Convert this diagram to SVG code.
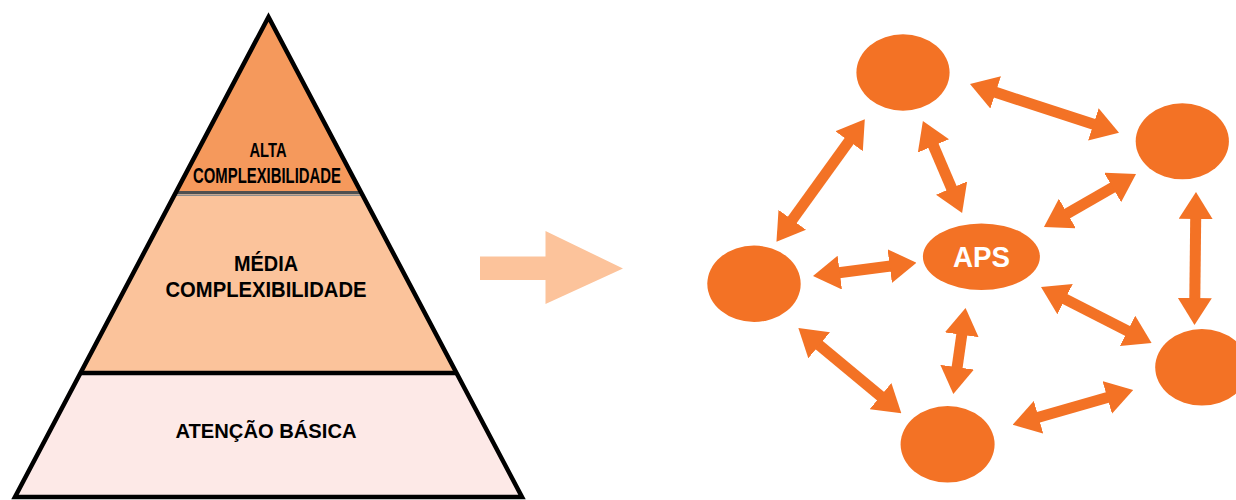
<svg xmlns="http://www.w3.org/2000/svg" width="1236" height="500" viewBox="0 0 1236 500">
  <style>
    .lbl { font-family: "Liberation Sans", Arial, sans-serif; font-weight: bold; fill: #000; text-anchor: middle; }
    .node { fill: #F37225; }
    .conn { stroke: #F37225; stroke-width: 11; fill: none; marker-start: url(#head); marker-end: url(#head); }
    .aps { font-family: "Liberation Sans", Arial, sans-serif; font-weight: bold; fill: #fff; text-anchor: middle; font-size: 29px; }
  </style>
  <defs>
    <marker id="head" markerUnits="userSpaceOnUse" viewBox="0 0 27 34" refX="1" refY="17" markerWidth="27" markerHeight="34" orient="auto-start-reverse">
      <path d="M0,0 L27,17 L0,34 z" fill="#F37225"/>
    </marker>
  </defs>
  <rect width="1236" height="500" fill="#fff"/>

  <g id="pyramid">
    <g id="alta">
      <polygon points="268.5,17 175,194 362,194" fill="#F5995C"/>
      <text class="lbl" x="268" y="156.7" font-size="21" textLength="37" lengthAdjust="spacingAndGlyphs">ALTA</text>
      <text class="lbl" x="267" y="183" font-size="21.5" textLength="148" lengthAdjust="spacingAndGlyphs">COMPLEXIBILIDADE</text>
    </g>
    <g id="media">
      <polygon points="175,194 362,194 456.5,373 80.5,373" fill="#FBC39B"/>
      <text class="lbl" x="266" y="270.5" font-size="21.5" textLength="64" lengthAdjust="spacingAndGlyphs">MÉDIA</text>
      <text class="lbl" x="266" y="296.7" font-size="22.5" textLength="201" lengthAdjust="spacingAndGlyphs">COMPLEXIBILIDADE</text>
    </g>
    <g id="basica">
      <polygon points="80.5,373 456.5,373 522,497 15,497" fill="#FDE9E7"/>
      <text class="lbl" x="266" y="437.5" font-size="21" textLength="181" lengthAdjust="spacingAndGlyphs">ATENÇÃO BÁSICA</text>
    </g>
    <line x1="176" y1="192.5" x2="361" y2="192.5" stroke="#4f4f4f" stroke-width="3"/>
    <line x1="175" y1="195.2" x2="362" y2="195.2" stroke="#8c8c8c" stroke-width="1.6"/>
    <line x1="80" y1="373" x2="457" y2="373" stroke="#000" stroke-width="4.5"/>
    <polygon points="268.5,17 522,497 15,497" fill="none" stroke="#000" stroke-width="4.5"/>
  </g>

  <g id="big-arrow">
    <polygon points="480,256.5 545.5,256.5 545.5,231 623,268.5 545.5,304 545.5,280 480,280" fill="#FCC39B"/>
  </g>

  <g id="connectors">
    <line class="conn" x1="994.7" y1="92.1" x2="1094.3" y2="124.6"/>
    <line class="conn" x1="849.6" y1="140.4" x2="791.7" y2="220.6"/>
    <line class="conn" x1="933.1" y1="145" x2="951.9" y2="189"/>
    <line class="conn" x1="1113.5" y1="187" x2="1066.5" y2="214"/>
    <line class="conn" x1="1195.7" y1="218" x2="1194.8" y2="299"/>
    <line class="conn" x1="838.8" y1="272.7" x2="890.7" y2="266"/>
    <line class="conn" x1="1064.2" y1="298.7" x2="1128.4" y2="331.3"/>
    <line class="conn" x1="961.9" y1="333.8" x2="957" y2="368.2"/>
    <line class="conn" x1="818.4" y1="344.6" x2="881.3" y2="396.7"/>
    <line class="conn" x1="1037.6" y1="417.5" x2="1108.2" y2="397.2"/>
  </g>

  <g id="node-top"><ellipse class="node" cx="903" cy="72.5" rx="46.6" ry="38.2"/></g>
  <g id="node-right-top"><ellipse class="node" cx="1182.3" cy="141.3" rx="46.6" ry="38"/></g>
  <g id="node-left"><ellipse class="node" cx="754" cy="283.8" rx="46.7" ry="38.2"/></g>
  <g id="node-aps">
    <ellipse class="node" cx="981.4" cy="256.7" rx="58.5" ry="33.3"/>
    <text class="aps" x="981.5" y="267" textLength="57" lengthAdjust="spacingAndGlyphs">APS</text>
  </g>
  <g id="node-bottom"><ellipse class="node" cx="947.6" cy="444.3" rx="47" ry="38.3"/></g>
  <g id="node-right-bottom"><ellipse class="node" cx="1201.9" cy="367.3" rx="46.7" ry="38.3"/></g>
</svg>
